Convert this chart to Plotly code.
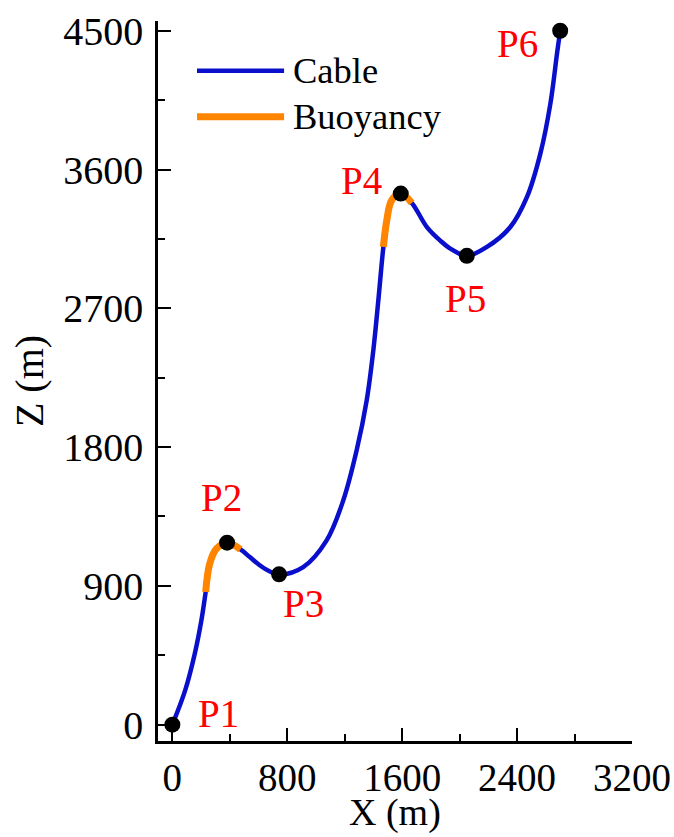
import plotly.graph_objects as go

# ---- data ----
cable_x = [0, 89, 156, 202, 232, 260, 307, 381, 474, 539, 632, 743, 911, 1074, 1190, 1283,
           1353, 1399, 1434, 1469, 1493, 1527, 1590, 1667, 1772, 1865, 1935, 2050, 2190,
           2353, 2469, 2562, 2632, 2678, 2700]
cable_y = [0, 222, 460, 676, 860, 1044, 1141, 1180, 1137, 1087, 1018, 975, 1022, 1195, 1455, 1779,
           2103, 2427, 2752, 3098, 3271, 3401, 3444, 3383, 3227, 3139, 3087, 3040, 3098,
           3227, 3422, 3703, 4028, 4352, 4500]

buoy1_x = [232, 260, 307, 381, 474]
buoy1_y = [860, 1044, 1141, 1180, 1137]
buoy2_x = [1469, 1493, 1527, 1590, 1667]
buoy2_y = [3098, 3271, 3401, 3444, 3383]

point_x = [0, 381, 743, 1590, 2050, 2700]
point_y = [0, 1180, 975, 3444, 3040, 4500]
point_labels = ["P1", "P2", "P3", "P4", "P5", "P6"]
label_x = [318, 342, 916, 1320, 2039, 2405]
label_y = [74, 1474, 787, 3529, 2764, 4417]

legend_names = ["Cable", "Buoyancy"]

x_ticks = [0, 800, 1600, 2400, 3200]
y_ticks = [0, 900, 1800, 2700, 3600, 4500]

BLUE = "#0a0fcc"
ORANGE = "#ff8400"
FONT = "Liberation Serif"
SMOOTH = 1.0

fig = go.Figure()
fig.add_trace(go.Scatter(x=cable_x, y=cable_y, mode="lines",
                         line=dict(color=BLUE, width=4.5, shape="spline", smoothing=SMOOTH),
                         name=legend_names[0], showlegend=False))
for bx, by in [(buoy1_x, buoy1_y), (buoy2_x, buoy2_y)]:
    fig.add_trace(go.Scatter(x=bx, y=by, mode="lines",
                             line=dict(color=ORANGE, width=7, shape="spline", smoothing=SMOOTH),
                             name=legend_names[1], showlegend=False))
fig.add_trace(go.Scatter(x=point_x, y=point_y, mode="markers",
                         marker=dict(color="black", size=16), showlegend=False))

for t, lx, ly in zip(point_labels, label_x, label_y):
    fig.add_annotation(x=lx, y=ly, xref="x", yref="y", text=t, showarrow=False,
                       font=dict(family=FONT, size=39, color="#ff0000"))

# manual legend
for name, color, w, py in [(legend_names[0], BLUE, 4.5, 0.931), (legend_names[1], ORANGE, 7, 0.867)]:
    fig.add_shape(type="line", xref="paper", yref="paper", x0=0.0823, x1=0.266, y0=py, y1=py,
                  line=dict(color=color, width=w))
    fig.add_annotation(x=0.281, y=py, xref="paper", yref="paper", text=name, showarrow=False,
                       xanchor="left", yanchor="middle",
                       font=dict(family=FONT, size=36.5, color="black"))

# x axis title
fig.add_annotation(x=0.5, y=-0.1305, xref="paper", yref="paper", text="X (m)", showarrow=False,
                   xanchor="center", yanchor="bottom", borderpad=0,
                   font=dict(family=FONT, size=38, color="black"))

axis_common = dict(showgrid=False, zeroline=False, showline=True, linecolor="black", linewidth=2.5,
                   ticks="inside", ticklen=13, tickwidth=2, tickcolor="black", automargin=False,
                   mirror=False)

fig.update_xaxes(range=[-100, 3200], tickvals=x_ticks, **axis_common,
                 tickfont=dict(family=FONT, size=39, color="black"),
                 minor=dict(ticks="inside", ticklen=7, tickwidth=2, dtick=400, tick0=0, tickcolor="black"))
fig.update_yaxes(range=[-106, 4563], tickvals=y_ticks, ticklabelstandoff=4, **axis_common,
                 tickfont=dict(family=FONT, size=40, color="black"),
                 minor=dict(ticks="inside", ticklen=7, tickwidth=2, dtick=450, tick0=0, tickcolor="black"),
                 title=dict(text="Z (m)", font=dict(family=FONT, size=40, color="black"), standoff=8))

fig.update_layout(width=674, height=837, margin=dict(l=158, r=42, t=21, b=96),
                  plot_bgcolor="white", paper_bgcolor="white", showlegend=False)

fig.write_html("out.html")
